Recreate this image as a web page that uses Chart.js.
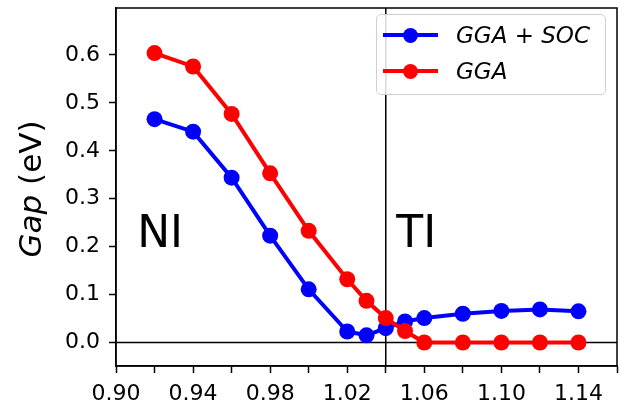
<!DOCTYPE html>
<html>
<head>
<meta charset="utf-8">
<script src="https://cdn.jsdelivr.net/npm/chart.js@4"></script>
<style>
  html, body { margin: 0; padding: 0; background: #fff; }
  #wrap { position: relative; width: 635px; height: 414px; }
  canvas { position: absolute; left: 0; top: 0; }
  /* legend box, matplotlib style */
  #legend {
    position: absolute; left: 376px; top: 14px; width: 228px; height: 79px;
    border: 1.5px solid #d0d0d0; border-radius: 5px; background: rgba(255,255,255,0.85);
    font-family: "DejaVu Sans", sans-serif; font-style: italic; font-size: 23px; color: #000;
  }
  .row { position: absolute; left: 0; height: 30px; display: flex; align-items: center; }
  .key { position: relative; width: 55px; height: 30px; margin-left: 6px; margin-right: 18px; }
  .key .ln { position: absolute; left: 0; right: 0; top: 13px; height: 4px; }
  .key .pt { position: absolute; left: 20px; top: 8px; width: 15px; height: 15px; border-radius: 50%; }
</style>
</head>
<body>
<div id="wrap">
  <canvas id="chart" width="635" height="414"></canvas>
  <div id="legend"></div>
</div>
<script>
// x positions (lattice ratio) and gaps in eV
const xSoc = [0.92, 0.94, 0.96, 0.98, 1.00, 1.02, 1.03, 1.04, 1.05, 1.06, 1.08, 1.10, 1.12, 1.14];
const gapSoc = [0.466, 0.440, 0.344, 0.223, 0.111, 0.023, 0.015, 0.030, 0.044, 0.051, 0.060, 0.066, 0.069, 0.065];
const xGga = [0.92, 0.94, 0.96, 0.98, 1.00, 1.02, 1.03, 1.04, 1.05, 1.06, 1.08, 1.10, 1.12, 1.14];
const gapGga = [0.604, 0.576, 0.477, 0.353, 0.233, 0.132, 0.087, 0.051, 0.024, 0.0, 0.0, 0.0, 0.0, 0.0];

const SERIES = ["GGA + SOC", "GGA"];
const COLORS = ["#0000ff", "#ff0000"];

const X_TICKS = [0.90, 0.92, 0.94, 0.96, 0.98, 1.00, 1.02, 1.04, 1.06, 1.08, 1.10, 1.12, 1.14, 1.16];
const X_LABELS = ["0.90", "", "0.94", "", "0.98", "", "1.02", "", "1.06", "", "1.10", "", "1.14", ""];
const Y_TICKS = [0.0, 0.1, 0.2, 0.3, 0.4, 0.5, 0.6];
const X_RANGE = [0.90, 1.16];
const Y_RANGE = [-0.049, 0.698];
const TRANSITION_X = 1.04; // NI / TI boundary
const REGION_LABELS = [{ text: "NI", x: 0.911 }, { text: "TI", x: 1.0455 }];
const REGION_LABEL_Y = 0.20;

const FONT = '"DejaVu Sans", sans-serif';

function toPoints(xs, ys) {
  return xs.map((x, i) => ({ x: x, y: ys[i] }));
}

// frame, zero line, transition line, region text, y title
const extras = {
  id: "extras",
  beforeDatasetsDraw(chart) {
    const { ctx, chartArea: a, scales: { x, y } } = chart;
    ctx.save();
    ctx.strokeStyle = "#000";
    ctx.lineWidth = 1.5;
    const y0 = y.getPixelForValue(0);
    ctx.beginPath();
    ctx.moveTo(a.left, y0);
    ctx.lineTo(a.right, y0);
    const xt = x.getPixelForValue(TRANSITION_X);
    ctx.moveTo(xt, a.top);
    ctx.lineTo(xt, a.bottom);
    ctx.stroke();

    ctx.fillStyle = "#000";
    ctx.font = "44px " + FONT;
    ctx.textBaseline = "alphabetic";
    REGION_LABELS.forEach(r => {
      ctx.fillText(r.text, x.getPixelForValue(r.x), y.getPixelForValue(REGION_LABEL_Y));
    });
    ctx.restore();
  },
  afterDraw(chart) {
    const { ctx, chartArea: a } = chart;
    ctx.save();
    ctx.strokeStyle = "#000";
    ctx.lineWidth = 1.5;
    ctx.strokeRect(a.left, a.top, a.right - a.left, a.bottom - a.top);

    // y axis title: "Gap" italic + " (eV)"
    const p1 = "Gap", p2 = " (eV)";
    ctx.translate(33, 189);
    ctx.rotate(-Math.PI / 2);
    ctx.textBaseline = "middle";
    ctx.font = "italic 31px " + FONT;
    const w1 = ctx.measureText(p1).width;
    ctx.font = "31px " + FONT;
    const w2 = ctx.measureText(p2).width;
    let sx = -(w1 + w2) / 2;
    ctx.fillStyle = "#000";
    ctx.font = "italic 31px " + FONT;
    ctx.fillText(p1, sx, 0);
    ctx.font = "31px " + FONT;
    ctx.fillText(p2, sx + w1, 0);
    ctx.restore();
  }
};

const datasets = [toPoints(xSoc, gapSoc), toPoints(xGga, gapGga)].map((pts, i) => ({
  label: SERIES[i],
  data: pts,
  borderColor: COLORS[i],
  backgroundColor: COLORS[i],
  borderWidth: 4,
  pointRadius: 8,
  pointHoverRadius: 8,
  pointBorderWidth: 0,
  tension: 0,
  order: i === 0 ? 2 : 1, // red drawn over blue
}));

// drop the half-label padding chart.js adds around the axes
function noPad(s) {
  s.paddingTop = 0; s.paddingBottom = 0; s.paddingLeft = 0; s.paddingRight = 0;
}

new Chart(document.getElementById("chart"), {
  type: "line",
  data: { datasets },
  plugins: [extras],
  options: {
    responsive: false,
    animation: false,
    layout: { padding: { left: 0, right: 18, top: 1, bottom: 0 } },
    plugins: { legend: { display: false }, tooltip: { enabled: false } },
    scales: {
      x: {
        type: "linear",
        min: X_RANGE[0], max: X_RANGE[1],
        afterBuildTicks: s => { s.ticks = X_TICKS.map(v => ({ value: v })); },
        afterFit: s => { s.height = 48; noPad(s); },
        ticks: {
          autoSkip: false, maxRotation: 0, padding: 8,
          color: "#000", font: { family: FONT, size: 22 },
          callback: (v, i) => X_LABELS[i]
        },
        grid: { drawOnChartArea: false, drawTicks: true, tickLength: 7, color: "#000", tickWidth: 1.5 },
        border: { display: true, color: "#000", width: 1.5 }
      },
      y: {
        type: "linear",
        min: Y_RANGE[0], max: Y_RANGE[1],
        afterBuildTicks: s => { s.ticks = Y_TICKS.map(v => ({ value: v })); },
        afterFit: s => { s.width = 116; noPad(s); },
        ticks: {
          padding: 9,
          color: "#000", font: { family: FONT, size: 22 },
          callback: v => v.toFixed(1)
        },
        grid: { drawOnChartArea: false, drawTicks: true, tickLength: 7, color: "#000", tickWidth: 1.5 },
        border: { display: true, color: "#000", width: 1.5 }
      }
    }
  }
});

// legend: line with marker, then italic label
const legend = document.getElementById("legend");
SERIES.forEach((name, i) => {
  const row = document.createElement("div");
  row.className = "row";
  row.style.top = (5 + i * 36) + "px";
  row.innerHTML = `<div class="key"><div class="ln" style="background:${COLORS[i]}"></div>` +
    `<div class="pt" style="background:${COLORS[i]}"></div></div><span>${name}</span>`;
  legend.appendChild(row);
});
</script>
</body>
</html>
